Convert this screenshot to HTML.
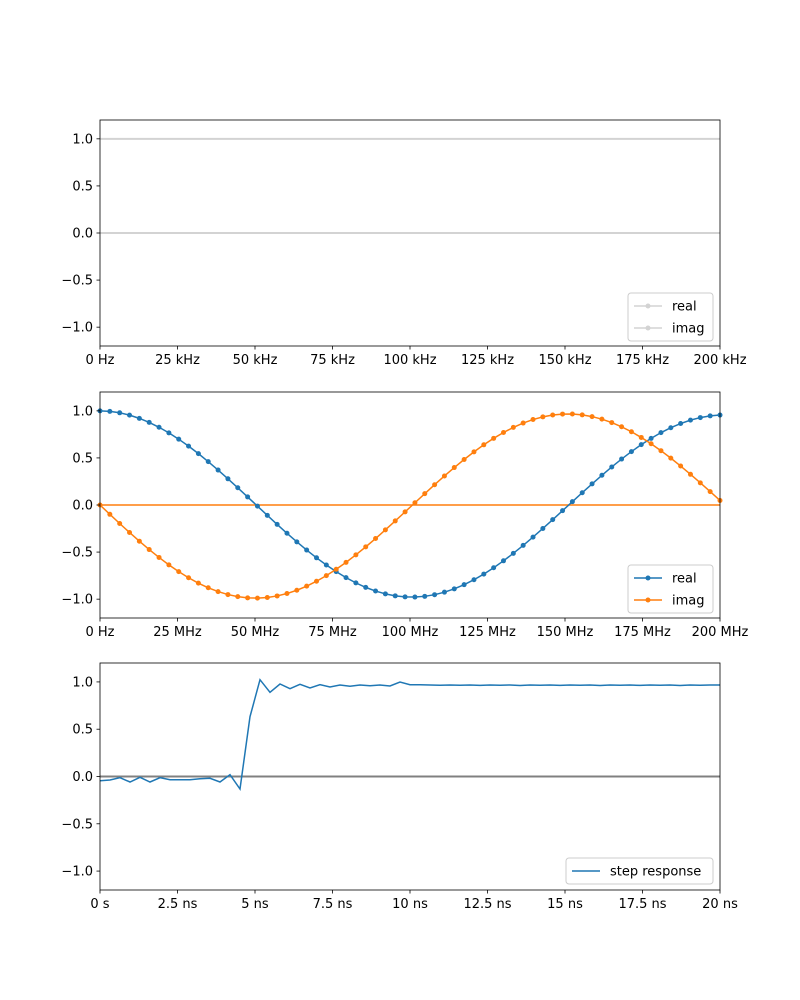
<!DOCTYPE html>
<html><head><meta charset="utf-8"><style>
html,body{margin:0;padding:0;background:#fff}
svg{display:block;font-family:"DejaVu Sans","Liberation Sans",sans-serif}
</style></head><body>
<svg id="s" width="800" height="1000" xmlns="http://www.w3.org/2000/svg">
<rect width="800" height="1000" fill="#fff"/>
<g id="g"></g>
</svg>
<script>
const NS="http://www.w3.org/2000/svg";const g=document.getElementById('g');
function el(t,a,txt){const e=document.createElementNS(NS,t);for(const k in a)e.setAttribute(k,a[k]);if(txt!==undefined)e.textContent=txt;g.appendChild(e);return e;}
const X0=100,X1=720,panels=[{top:120,bot:346},{top:392,bot:618},{top:663,bot:890}];
function ym(p,v){const c=(p.top+p.bot)/2;return c-v*(p.bot-p.top)/2.4;}
const xl=[["0 Hz","25 kHz","50 kHz","75 kHz","100 kHz","125 kHz","150 kHz","175 kHz","200 kHz"],
["0 Hz","25 MHz","50 MHz","75 MHz","100 MHz","125 MHz","150 MHz","175 MHz","200 MHz"],
["0 s","2.5 ns","5 ns","7.5 ns","10 ns","12.5 ns","15 ns","17.5 ns","20 ns"]];
function frame(i){const p=panels[i];
 [-1,-0.5,0,0.5,1].forEach(v=>{const y=ym(p,v);el('line',{x1:X0-3.5,x2:X0,y1:y,y2:y,stroke:'#000','stroke-width':0.8});
 el('text',{x:X0-7,y:y+4.5,'text-anchor':'end','font-size':'13'},(v<0?'\u2212':'')+Math.abs(v).toFixed(1));});
 xl[i].forEach((t,k)=>{const x=X0+k*77.5;el('line',{x1:x,x2:x,y1:p.bot,y2:p.bot+3.5,stroke:'#000','stroke-width':0.8});
 el('text',{x:x,y:p.bot+18,'text-anchor':'middle','font-size':'13'},t);});
 el('rect',{x:X0,y:p.top,width:X1-X0,height:p.bot-p.top,fill:'none',stroke:'#000','stroke-width':0.8});}
let p=panels[0];
el('line',{x1:X0,x2:X1,y1:ym(p,1),y2:ym(p,1),stroke:'#d3d3d3','stroke-width':2});
el('line',{x1:X0,x2:X1,y1:ym(p,0),y2:ym(p,0),stroke:'#d3d3d3','stroke-width':2});
frame(0);
function legend(x,y,w,h,items){el('rect',{x:x,y:y,width:w,height:h,rx:3,fill:'#fff','fill-opacity':0.8,stroke:'#ccc','stroke-width':1});
 items.forEach((it,k)=>{const yy=y+13+k*22;el('line',{x1:x+6,x2:x+34,y1:yy,y2:yy,stroke:it[1],'stroke-width':1.5});
 if(it[2])el('circle',{cx:x+20,cy:yy,r:2.5,fill:it[1]});
 el('text',{x:x+44,y:yy+4.5,'font-size':'13'},it[0]);});}
legend(628,293,85,48,[["real","#d3d3d3",1],["imag","#d3d3d3",1]]);
p=panels[1];
el('line',{x1:X0,x2:X1,y1:ym(p,0),y2:ym(p,0),stroke:'#ff7f0e','stroke-width':1.5});
let re=[],im=[];const N=64;
for(let k=0;k<N;k++){const f=k*198.4/(N-1);const th=2*Math.PI*f/200;const A=1-0.00022*f;const x=X0+k*620/(N-1);
 re.push([x,ym(p,A*Math.cos(th))]);im.push([x,ym(p,-A*Math.sin(th))]);}
function series(pts,c){el('polyline',{points:pts.map(q=>q.join(',')).join(' '),fill:'none',stroke:c,'stroke-width':1.5});
 pts.forEach(q=>el('circle',{cx:q[0],cy:q[1],r:2.5,fill:c}));}
series(re,'#1f77b4');series(im,'#ff7f0e');
frame(1);
legend(628,565,85,48,[["real","#1f77b4",1],["imag","#ff7f0e",1]]);
p=panels[2];
el('line',{x1:X0,x2:X1,y1:ym(p,0),y2:ym(p,0),stroke:'#808080','stroke-width':2});
const ys=[780.7,780,777.7,782,777.3,782,777.7,779.7,779.7,779.7,778.7,778.3,782,774.7,789,716.7,679.7,692.3,684,688.7,684.3,688,684.7,687,685,686.3,685,685.7,685,686,682,684.7,684.7,685,685.2,685,685.3,685,685.4,685,685.3,685,685.5,685,685.2,685,685.4,685,685.2,685,685.5,685,685.2,685,685.4,685,685.2,685,685.5,685,685.2,685,685];
let pts=ys.map((y,k)=>[X0+k*620/62,y]).filter(q=>q[0]<=X1+0.1);
el('polyline',{points:pts.map(q=>q.join(',')).join(' '),fill:'none',stroke:'#1f77b4','stroke-width':1.5});
frame(2);
legend(566,858,147,26,[["step response","#1f77b4",0]]);
</script>
</body></html>
